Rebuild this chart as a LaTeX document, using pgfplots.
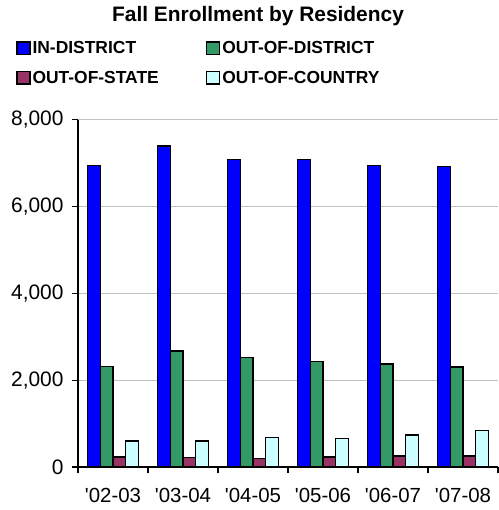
\documentclass[border=0pt]{standalone}
\usepackage{pgfplots}
\pgfplotsset{compat=1.18}
\usepackage{fontspec}
\setmainfont{Liberation Sans}
\definecolor{cIn}{RGB}{0,0,255}
\definecolor{cOD}{RGB}{51,153,102}
\definecolor{cOS}{RGB}{153,51,102}
\definecolor{cOC}{RGB}{204,255,255}
\definecolor{cGrid}{RGB}{192,192,192}
\begin{document}
\begin{tikzpicture}
\pgfplotsset{sq legend/.style={legend image code/.code={\draw[##1,draw=black,line width=1.5bp] (0bp,-6bp) rectangle (13bp,6.5bp);}}}
\begin{axis}[name=ax,
  scale only axis, width=420bp, height=347.5bp,
  ybar=0pt, bar width=12.7bp,
  xmin=-0.5, xmax=5.5, ymin=0, ymax=8000,
  axis x line*=bottom, axis y line*=left,
  axis line style={line width=1.2bp, black},
  tick align=outside, major tick length=6bp,
  tick style={line width=1.2bp, black},
  xtick={-0.5,0.5,...,5.5}, xticklabels={},
  extra x ticks={0,1,2,3,4,5},
  extra x tick labels={{\textquotesingle 02-03},{\textquotesingle 03-04},{\textquotesingle 04-05},{\textquotesingle 05-06},{\textquotesingle 06-07},{\textquotesingle 07-08}},
  extra x tick style={major tick length=0pt, tick style={draw=none}},
  xticklabel style={font=\fontsize{20.5}{24}\selectfont, yshift=-18bp},
  ytick={0,2000,4000,6000,8000},
  scaled y ticks=false,
  yticklabel style={font=\fontsize{21}{24}\selectfont, xshift=-5bp},
  /pgf/number format/assume math mode=true,
  /pgf/number format/1000 sep={,},
  ymajorgrids, grid style={cGrid, line width=1.2bp},
  title={Fall Enrollment by Residency},
  title style={at={(0.4286,1.279)}, anchor=center, font=\bfseries\fontsize{21}{24}\selectfont},
  legend columns=2,
  legend style={at={(-0.148,1.231)}, anchor=north west, draw=none, fill=none,
    font=\bfseries\fontsize{17.5}{20}\selectfont, inner sep=0pt, row sep=12bp,
    nodes={inner sep=2bp},
    /tikz/every even column/.append style={column sep=45bp}},
  legend cell align=left,
]
\addplot[fill=cIn, draw=black, line width=1.2bp, sq legend] coordinates {(0,6950) (1,7390) (2,7070) (3,7070) (4,6950) (5,6920)};
\addplot[fill=cOD, draw=black, line width=1.2bp, sq legend] coordinates {(0,2320) (1,2670) (2,2520) (3,2420) (4,2370) (5,2300)};
\addplot[fill=cOS, draw=black, line width=1.2bp, sq legend] coordinates {(0,230) (1,225) (2,195) (3,230) (4,255) (5,255)};
\addplot[fill=cOC, draw=black, line width=1.2bp, sq legend] coordinates {(0,600) (1,600) (2,670) (3,650) (4,735) (5,835)};
\legend{IN-DISTRICT, OUT-OF-DISTRICT, OUT-OF-STATE, OUT-OF-COUNTRY}
\end{axis}
\pgfresetboundingbox
\path[use as bounding box] ([shift={(-78bp,-43bp)}]ax.south west) rectangle ([shift={(0bp,119.5bp)}]ax.north east);
\end{tikzpicture}
\end{document}
